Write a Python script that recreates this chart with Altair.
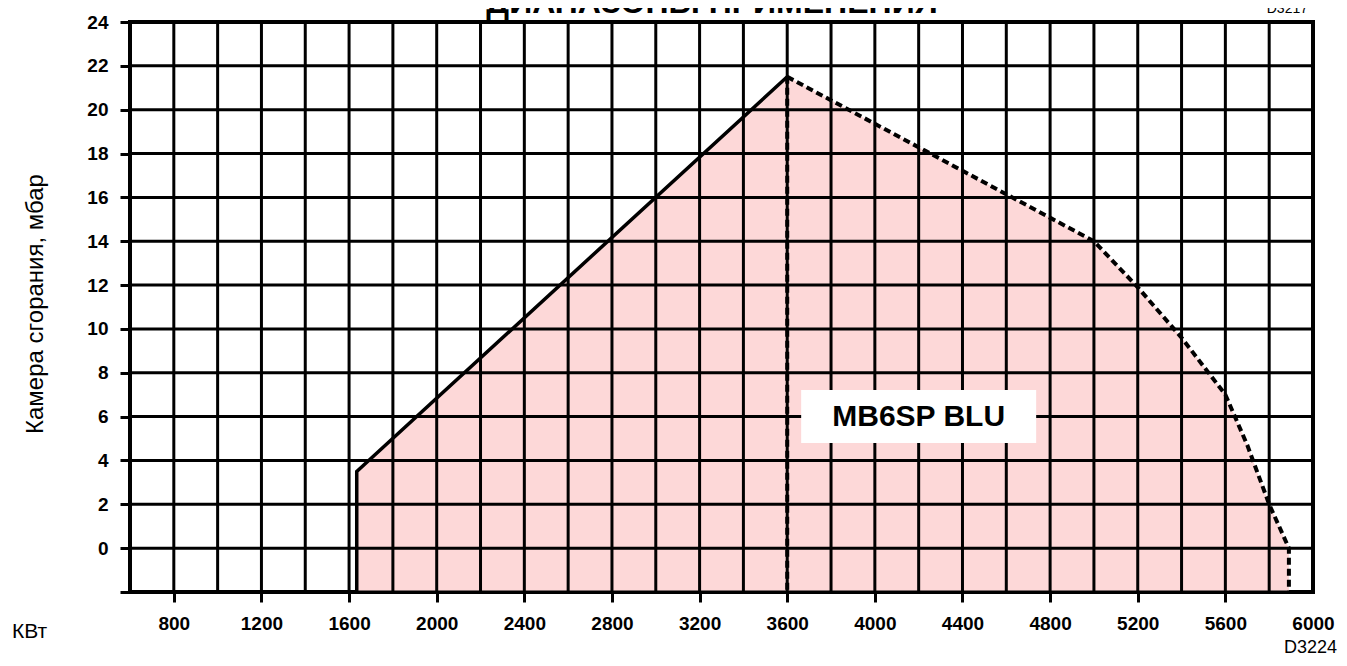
import altair as alt
import pandas as pd

# ---- axis ranges and tick values ----
X_MIN, X_MAX = 600, 6000
Y_MIN, Y_MAX = -2, 24
X_TICKS = list(range(800, 6001, 400))
Y_TICKS = list(range(-2, 25, 2))
X_GRID = list(range(600, 6001, 200))
Y_GRID = list(range(-2, 25, 2))

# ---- working field boundary (kW, mbar) ----
LOWER_X = [1635, 1635, 3600]
LOWER_Y = [-2, 3.5, 21.5]
UPPER_X = [3600, 5000, 5200, 5400, 5600, 5700, 5800, 5890, 5890]
UPPER_Y = [21.5, 14.0, 11.9, 9.6, 7.0, 4.7, 2.0, 0.0, -2]
DIVIDER_X = [3600, 3600]
DIVIDER_Y = [21.5, -2]

# ---- labels ----
MODEL_LABEL = ["MB6SP BLU"]
MODEL_X = [4200]
MODEL_Y = [6]
TITLE = ["ДИАПАЗОНЫ ПРИМЕНЕНИЯ"]
Y_TITLE = ["Камера сгорания, мбар"]
X_UNIT = ["КВт"]
CODE_TOP = ["D3217"]
CODE_BOTTOM = ["D3224"]

W, H = 1183, 570
PINK = "#FDD8D8"
SANS = "Liberation Sans, Arial, sans-serif"
TICK_FONT = "Liberation Sans, Arial, sans-serif"

XS = alt.Scale(domain=[X_MIN, X_MAX], nice=False, zero=False)
YS = alt.Scale(domain=[Y_MIN, Y_MAX], nice=False, zero=False)

XAX = alt.Axis(values=X_TICKS, title=None, grid=False, domain=False, format="d",
               tickSize=10, tickWidth=3, tickColor="black",
               tickOpacity={"condition": {"test": "datum.value >= 6000", "value": 0}, "value": 1},
               labelFont=TICK_FONT, labelFontSize=19, labelFontWeight="bold",
               labelColor="black", labelPadding=12, labelFlush=False,
               labelOverlap=False, labelBound=False)
YAX = alt.Axis(values=Y_TICKS, title=None, grid=False, domain=False, format="d",
               tickSize=10, tickWidth=3, tickColor="black",
               labelExpr="datum.value < 0 ? '' : datum.label",
               labelFont=TICK_FONT, labelFontSize=19, labelFontWeight="bold",
               labelColor="black", labelPadding=12, labelOverlap=False)

X = alt.X("x:Q", scale=XS, axis=XAX)
Y = alt.Y("y:Q", scale=YS, axis=YAX)

area_df = pd.DataFrame({"x": LOWER_X[1:] + UPPER_X[1:-1],
                        "y": LOWER_Y[1:] + UPPER_Y[1:-1]})
area = alt.Chart(area_df).mark_area(color=PINK, opacity=1).encode(
    x=X, y=Y, y2=alt.datum(Y_MIN))

vgrid = alt.Chart(pd.DataFrame({"x": X_GRID})).mark_rule(
    color="black", strokeWidth=3).encode(x=X)
hgrid = alt.Chart(pd.DataFrame({"y": Y_GRID})).mark_rule(
    color="black", strokeWidth=3).encode(y=Y)

solid_df = pd.DataFrame({"x": LOWER_X, "y": LOWER_Y, "i": range(len(LOWER_X))})
solid = alt.Chart(solid_df).mark_line(color="black", strokeWidth=3.5).encode(
    x=X, y=Y, order="i:Q")

dash_df = pd.concat([
    pd.DataFrame({"x": UPPER_X, "y": UPPER_Y, "i": range(len(UPPER_X)), "seg": "upper"}),
    pd.DataFrame({"x": DIVIDER_X, "y": DIVIDER_Y, "i": range(len(DIVIDER_X)), "seg": "divider"}),
])
dashed = alt.Chart(dash_df).mark_line(color="black", strokeWidth=4,
                                      strokeDash=[7, 4]).encode(
    x=X, y=Y, order="i:Q", detail="seg:N")

model_df = pd.DataFrame({"x": MODEL_X, "y": MODEL_Y, "t": MODEL_LABEL})
box = alt.Chart(model_df).mark_point(
    shape="M-1,-0.2255H1V0.2255H-1Z", size=235 ** 2, filled=True,
    color="white", opacity=1, strokeWidth=0).encode(x=X, y=Y)
model_text = alt.Chart(model_df).mark_text(
    font=SANS, fontSize=30, fontWeight="bold", color="black",
    baseline="middle", align="center").encode(x=X, y=Y, text="t:N")

def note(text, x, y, size, weight="normal", align="center", baseline="middle", angle=0):
    return alt.Chart(pd.DataFrame({"t": text})).mark_text(
        font=SANS, fontSize=size, fontWeight=weight, color="black",
        align=align, baseline=baseline, angle=angle).encode(
        x=alt.value(x), y=alt.value(y), text="t:N")

title = note(TITLE, 582, -9, 32, weight="bold", baseline="alphabetic")
code_top = note(CODE_TOP, 1178, -9, 14, align="right", baseline="alphabetic")
ytitle = note(Y_TITLE, -94, 282, 24, angle=270)
xunit = note(X_UNIT, -118, 610, 21, align="left")
code_bottom = note(CODE_BOTTOM, 1207, 626, 18, align="right")

chart = alt.layer(area, vgrid, hgrid, solid, dashed, box, model_text,
                  title, code_top, ytitle, xunit, code_bottom).properties(
    width=W, height=H,
    padding={"left": 122, "top": 14, "right": 26, "bottom": 66},
    autosize=alt.AutoSizeParams(type="none"),
    background="white",
).configure_view(stroke="black", strokeWidth=4)

chart.save("out.html", embed_options={"renderer": "svg", "actions": False})
